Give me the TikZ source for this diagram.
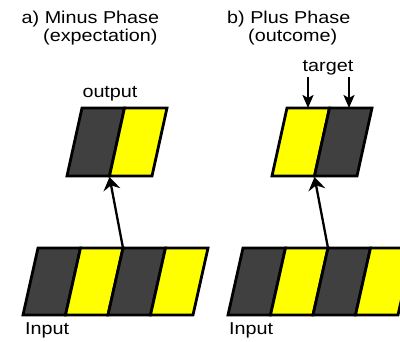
\documentclass[tikz,border=0pt]{standalone}
\usepackage{fontspec}
\setmainfont{Liberation Sans}[FakeStretch=1.15]
\usetikzlibrary{arrows.meta}
\definecolor{dgray}{HTML}{404040}
\definecolor{yel}{HTML}{FFFF00}
\tikzset{
  cellbox/.style={draw=black,line width=2.8pt,line join=miter},
  arr/.style={line width=2.3pt,-{Stealth[length=13pt,width=17pt,inset=4.5pt]}},
  tarr/.style={line width=2.3pt,-{Stealth[length=13pt,width=11pt,inset=3pt]}},
  lbl/.style={inner sep=0pt,font=\fontsize{17.2}{19}\selectfont}
}
\begin{document}
\begin{tikzpicture}[x=1pt,y=-1pt]
\useasboundingbox (0,0) rectangle (400,342);
% left input row
\foreach \i/\c in {0/dgray,1/yel,2/dgray,3/yel}
  \draw[cellbox,fill=\c] (38+42.5*\i,248) -- ++(42.5,0) -- ++(-15,67) -- ++(-42.5,0) -- cycle;
% right input row
\foreach \i/\c in {0/dgray,1/yel,2/dgray,3/yel}
  \draw[cellbox,fill=\c] (243+42.5*\i,248) -- ++(42.5,0) -- ++(-15,67) -- ++(-42.5,0) -- cycle;
% left output
\foreach \i/\c in {0/dgray,1/yel}
  \draw[cellbox,fill=\c] (82+42.5*\i,108) -- ++(42.5,0) -- ++(-15,68) -- ++(-42.5,0) -- cycle;
% right output
\foreach \i/\c in {0/yel,1/dgray}
  \draw[cellbox,fill=\c] (287+42.5*\i,108) -- ++(42.5,0) -- ++(-15,68) -- ++(-42.5,0) -- cycle;
% connectors
\coordinate (inA) at (123,248);
\coordinate (outA) at (109.5,177);
\coordinate (inB) at (328,248);
\coordinate (outB) at (314.5,177);
\draw[arr] (inA) -- (outA);
\draw[arr] (inB) -- (outB);
\coordinate (t1s) at (308,77);
\coordinate (t1e) at (308,108);
\coordinate (t2s) at (349,77);
\coordinate (t2e) at (349,108);
\draw[tarr] (t1s) -- (t1e);
\draw[tarr] (t2s) -- (t2e);
% labels
\node[lbl,anchor=base west] (ta) at (21.5,23.5) {a) Minus Phase};
\node[lbl,anchor=base west] (ta2) at (43,42) {(expectation)};
\node[lbl,anchor=base west] (tb) at (227,23.5) {b) Plus Phase};
\node[lbl,anchor=base west] (tb2) at (248,42) {(outcome)};
\node[lbl,anchor=base] (outl) at (110,97.5) {output};
\node[lbl,anchor=base] (tgt) at (328,72) {target};
\node[lbl,anchor=base west] (inl) at (25,335) {Input};
\node[lbl,anchor=base west] (inr) at (229,335) {Input};
\end{tikzpicture}
\end{document}
